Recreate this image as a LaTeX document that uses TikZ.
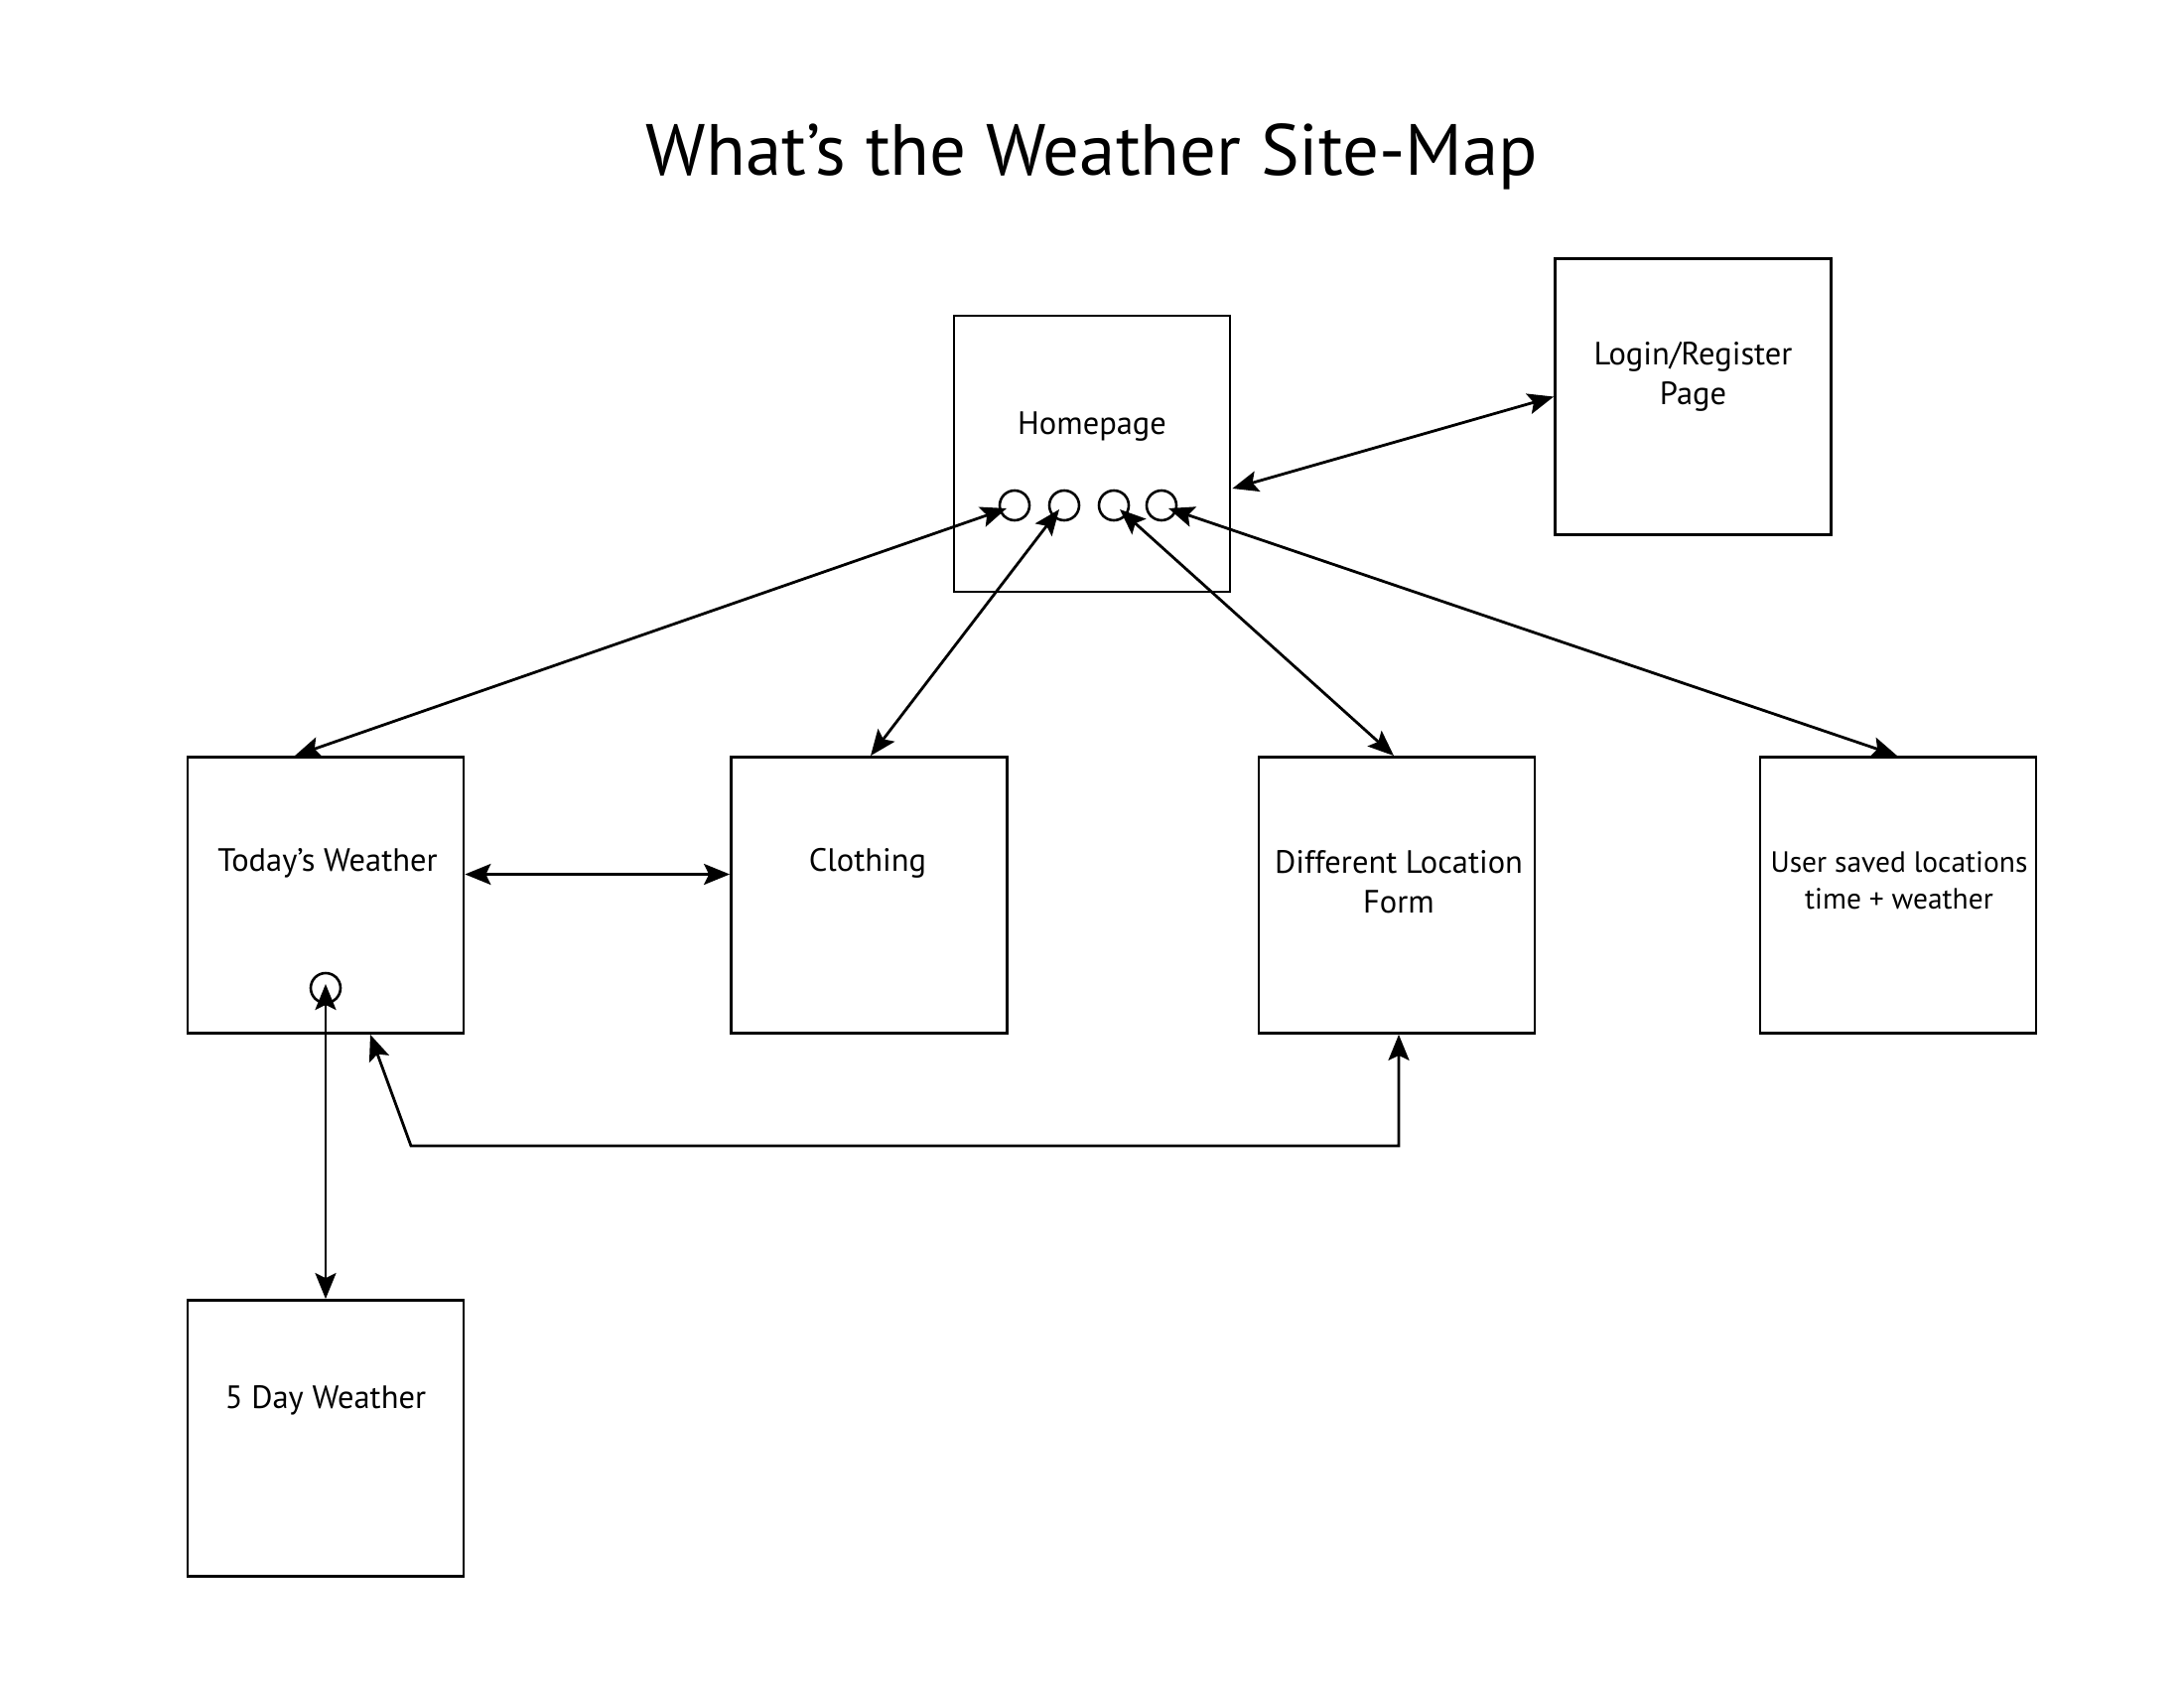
\documentclass[tikz,border=0pt]{standalone}
\usepackage{fontspec}
\setmainfont{PT Sans}
\usetikzlibrary{arrows.meta,calc}
\begin{document}
\begin{tikzpicture}[x=1pt,y=-1pt,
  page/.style={draw=black,line width=2.8pt,minimum width=278pt,minimum height=278pt,inner sep=0pt},
  hole/.style={circle,draw=black,line width=2.6pt,minimum size=30pt,inner sep=0pt},
  lbl/.style={font=\fontsize{32.5}{40}\selectfont,align=center,inner sep=0pt},
  link/.style={line width=2.8pt,{Stealth[length=26pt,width=21pt,inset=5pt]}-{Stealth[length=26pt,width=21pt,inset=5pt]}}
]
\useasboundingbox[fill=white] (0,0) rectangle (2200,1700);
\node[font=\fontsize{73}{86}\selectfont,inner sep=0pt] (title) at (1100,158) {What’s the Weather Site-Map};

\node[page] (home) at (1100,457) {};
\node[page] (login) at (1705.5,399.5) {};
\node[page] (today) at (328,901.5) {};
\node[page] (cloth) at (875.5,901.5) {};
\node[page] (diff) at (1407,901.5) {};
\node[page] (saved) at (1912,901.5) {};
\node[page] (five) at (328,1448.5) {};

\node[lbl] (homet) at (1100,430) {Homepage};
\node[lbl] (logint) at (1705.5,379) {Login/Register\\Page};
\node[lbl] (todayt) at (330,869) {Today’s Weather};
\node[lbl] (clotht) at (874,869) {Clothing};
\node[lbl] (difft) at (1409,888) {Different Location\\Form};
\node[lbl,font=\fontsize{29.5}{37}\selectfont] (savedt) at (1913,887) {User saved locations\\time + weather};
\node[lbl] (fivet) at (328,1410) {5 Day Weather};

\node[hole] (c1) at (1022,509) {};
\node[hole] (c2) at (1072,509) {};
\node[hole] (c3) at (1122,509) {};
\node[hole] (c4) at (1170,509) {};
\node[hole] (tc) at (328,995) {};

\coordinate (k1) at (1409,1154);
\coordinate (k2) at (414,1154);

\draw[link] ($(today.north)+(-31,0)$) -- ($(c1.center)+(-8,3)$);
\draw[link] ($(cloth.north)+(1.5,0)$) -- ($(c2.center)+(-5,4)$);
\draw[link] ($(diff.north)+(-3,0)$) -- ($(c3.center)+(6,4)$);
\draw[link] ($(saved.north)+(-1,0)$) -- ($(c4.center)+(7,3)$);
\draw[link] ($(home.east)+(1,35)$) -- (login.west);
\draw[link] ($(today.east)+(0,-21)$) -- ($(cloth.west)+(0,-21)$);
\draw[link] ($(tc.center)+(0,-4)$) -- (five.north);
\draw[link,line join=miter] ($(diff.south)+(2,0)$) -- (k1) -- (k2) -- ($(today.south)+(45,0)$);
\end{tikzpicture}
\end{document}
